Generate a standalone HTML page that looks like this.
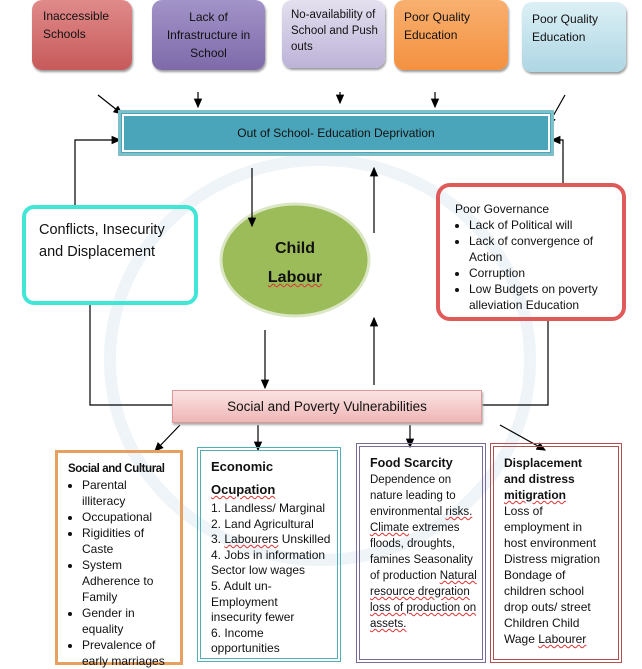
<!DOCTYPE html>
<html><head><style>
body{margin:0;width:642px;height:652px;position:relative;background:#fff;font-family:"Liberation Sans",Arial,sans-serif;overflow:hidden;color:#111}
.a{position:absolute;box-sizing:border-box}
.t{font-size:12px;line-height:16px}
.top{border-radius:10px;padding:4px 8px;font-size:12px;line-height:18px;box-shadow:1px 2px 2px #999}
ul{margin:0;padding-left:14px}
li{margin:0}
.u{text-decoration:underline wavy #d33;text-decoration-thickness:1px}
</style></head><body>
<svg class="a" style="left:0;top:0" width="642" height="652">
<defs><marker id="m" markerWidth="8" markerHeight="8" refX="7" refY="4" orient="auto"><path d="M0,0.5 L8,4 L0,7.5z" fill="#000"/></marker></defs>
<ellipse cx="320" cy="360" rx="210" ry="200" fill="none" stroke="#eef4f8" stroke-width="12"/>
<ellipse cx="295" cy="260" rx="74" ry="56" fill="#9cbb59" stroke="#dbe7c4" stroke-width="3"/>
<g stroke="#000" stroke-width="1.2" fill="none" marker-end="url(#m)">
<line x1="98" y1="95" x2="122" y2="114"/>
<line x1="198" y1="92" x2="198" y2="107"/>
<line x1="340" y1="92" x2="340" y2="103"/>
<line x1="435" y1="92" x2="435" y2="107"/>
<line x1="565" y1="95" x2="548" y2="125"/>
<polyline points="75,205 75,140 120,140"/>
<polyline points="563,185 563,140 552,140"/>
<line x1="252" y1="168" x2="252" y2="226"/>
<line x1="374" y1="233" x2="374" y2="168"/>
<line x1="265" y1="330" x2="265" y2="388"/>
<line x1="374" y1="385" x2="374" y2="318"/>
<line x1="180" y1="425" x2="155" y2="451"/>
<line x1="258" y1="425" x2="258" y2="450"/>
<line x1="410" y1="425" x2="410" y2="447"/>
<line x1="500" y1="425" x2="545" y2="450"/>
</g>
<g stroke="#000" stroke-width="1.2" fill="none">
<polyline points="90,305 90,405 172,405"/>
<polyline points="548,320 548,405 482,405"/>
</g>
</svg>
<div class="a top" style="left:32px;top:0;width:100px;height:70px;background:linear-gradient(#e08a8a,#c75a5a);padding:7px 8px 0 11px">Inaccessible Schools</div>
<div class="a top" style="left:152px;top:0;width:113px;height:70px;background:linear-gradient(#a293c8,#7e6aaa);text-align:center;padding:8px 10px">Lack of Infrastructure in School</div>
<div class="a top" style="left:282px;top:0;width:103px;height:68px;background:linear-gradient(#e4e0ef,#bdb3d8);line-height:16px;padding:7px 4px 0 9px;font-size:11.5px">No-availability of School and Push outs</div>
<div class="a top" style="left:394px;top:0;width:114px;height:70px;background:linear-gradient(#f8b070,#f49140);padding:8px 10px">Poor Quality Education</div>
<div class="a top" style="left:522px;top:2px;width:104px;height:70px;background:linear-gradient(#dcf0f5,#aed6e4);padding:8px 10px">Poor Quality Education</div>
<div class="a" style="left:118px;top:110px;width:436px;height:46px;background:#4aa5bb;border:3px solid #7ec0c8;outline:2px solid #fff;outline-offset:-6px;text-align:center;line-height:40px;font-size:12px">Out of School- Education Deprivation</div>
<div class="a" style="left:22px;top:205px;width:176px;height:100px;border:4px solid #42e6d6;border-radius:12px;padding:10px 12px 0 13px;font-size:14.5px;line-height:22px">Conflicts, Insecurity and Displacement</div>
<div class="a" style="left:220px;top:234px;width:150px;text-align:center;font-size:16px;font-weight:bold;line-height:29px">Child<br><span class="u">Labour</span></div>
<div class="a t" style="left:436px;top:183px;width:190px;height:138px;border:4px solid #e05a5a;border-radius:14px;padding:14px 14px 0 15px">Poor Governance<ul><li>Lack of Political will</li><li>Lack of convergence of Action</li><li>Corruption</li><li>Low Budgets on poverty alleviation Education</li></ul></div>
<div class="a" style="left:172px;top:390px;width:310px;height:33px;background:linear-gradient(#fbe3e3,#efb6b6);border:1px solid #d99;text-align:center;line-height:31px;font-size:13.5px;box-shadow:1px 2px 2px #aaa">Social and Poverty Vulnerabilities</div>
<div class="a t" style="left:55px;top:450px;width:128px;height:215px;border:3px solid #e8a060;padding:7px 12px 0 10px"><b style="font-size:11.5px;letter-spacing:-0.4px;white-space:nowrap">Social and Cultural</b><ul style="padding-left:14px"><li>Parental illiteracy</li><li>Occupational</li><li>Rigidities of Caste</li><li>System Adherence to Family</li><li>Gender in equality</li><li>Prevalence of early marriages</li></ul></div>
<div class="a t" style="left:197px;top:447px;width:144px;height:215px;border:4px double #50b0b8;padding:4px 0 0 10px;white-space:nowrap;line-height:15.6px"><b style="font-size:13px;line-height:23px">Economic<br><span class="u">Ocupation</span></b><br>1. Landless/ Marginal<br>2. Land Agricultural<br>3. <span class="u">Labourers</span> Unskilled<br>4. Jobs in information<br>Sector low wages<br>5. Adult un-<br>Employment<br>insecurity fewer<br>6. Income<br>opportunities</div>
<div class="a t" style="left:356px;top:443px;width:130px;height:220px;border:4px double #7a6a9a;padding:8px 4px 0 10px;font-size:11.5px"><b style="font-size:12.5px">Food Scarcity</b><br>Dependence on<br>nature leading to environmental <span class="u">risks.</span> <span class="u">Climate</span> extremes floods, droughts, famines Seasonality of production <span class="u">Natural resource dregration loss of production on assets.</span></div>
<div class="a t" style="left:490px;top:443px;width:132px;height:220px;border:4px double #b05050;padding:8px 12px 0 10px"><b>Displacement and distress <span class="u">mitigration</span></b><br>Loss of employment in host environment Distress migration Bondage of children school drop outs/ street Children Child Wage <span class="u">Labourer</span></div>
</body></html>
